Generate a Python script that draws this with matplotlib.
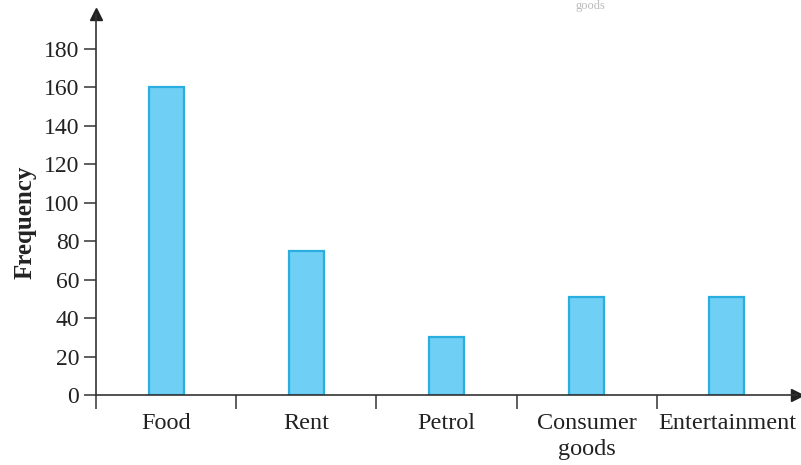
import matplotlib
matplotlib.use("Agg")
import matplotlib.pyplot as plt

categories = ["Food", "Rent", "Petrol", "Consumer\ngoods", "Entertainment"]
frequency = [160, 75, 30, 51, 51]
yticks = [0, 20, 40, 60, 80, 100, 120, 140, 160, 180]

plt.rcParams['font.family'] = ['Liberation Serif', 'DejaVu Serif']

W, H = 801, 465
fig = plt.figure(figsize=(W / 100, H / 100), dpi=100)
left, right = 96, 797
bottom, top = 395, 14
ax = fig.add_axes([left / W, 1 - bottom / H, (right - left) / W, (bottom - top) / H])

x = list(range(len(categories)))
ax.bar(x, frequency, width=0.25, color="#6fcff5", edgecolor="#2aaee0", linewidth=1.6, zorder=2)

ax.set_xlim(-0.5, 4.5)
ax.set_ylim(0, 198)
ax.set_yticks(yticks)
ax.set_yticklabels([str(v) for v in yticks], fontsize=17, color="#222222")

# category boundary ticks and centered labels
ax.set_xticks([-0.5, 0.5, 1.5, 2.5, 3.5])
ax.set_xticklabels([])
ax.set_xticks(x, minor=True)
ax.set_xticklabels(categories, minor=True, fontsize=17.5, color="#222222", linespacing=1.3)
ax.tick_params(axis='x', which='minor', length=0, pad=13)
ax.tick_params(axis='x', which='major', length=10, width=1.1, color="#333333", direction='out')
ax.tick_params(axis='y', length=9, width=1.1, color="#333333", pad=3)

for s in ["top", "right"]:
    ax.spines[s].set_visible(False)
for s in ["left", "bottom"]:
    ax.spines[s].set_linewidth(1.2)
    ax.spines[s].set_color("#333333")

# arrow heads
ax.plot(1, 0, ls="", marker=">", ms=9, color="#222222", transform=ax.transAxes, clip_on=False)
ax.plot(0, 1, ls="", marker="^", ms=9, color="#222222", transform=ax.transAxes, clip_on=False)

ax.set_ylabel("Frequency", fontsize=18, fontweight="bold", color="#222222")
ax.yaxis.set_label_coords((37 - left) / (right - left), (bottom - 222) / (bottom - top))

fig.text(590 / W, 1.0, "goods", fontsize=9, color="#bbbbbb", ha="center", va="top")

fig.savefig("out.png", dpi=100)
